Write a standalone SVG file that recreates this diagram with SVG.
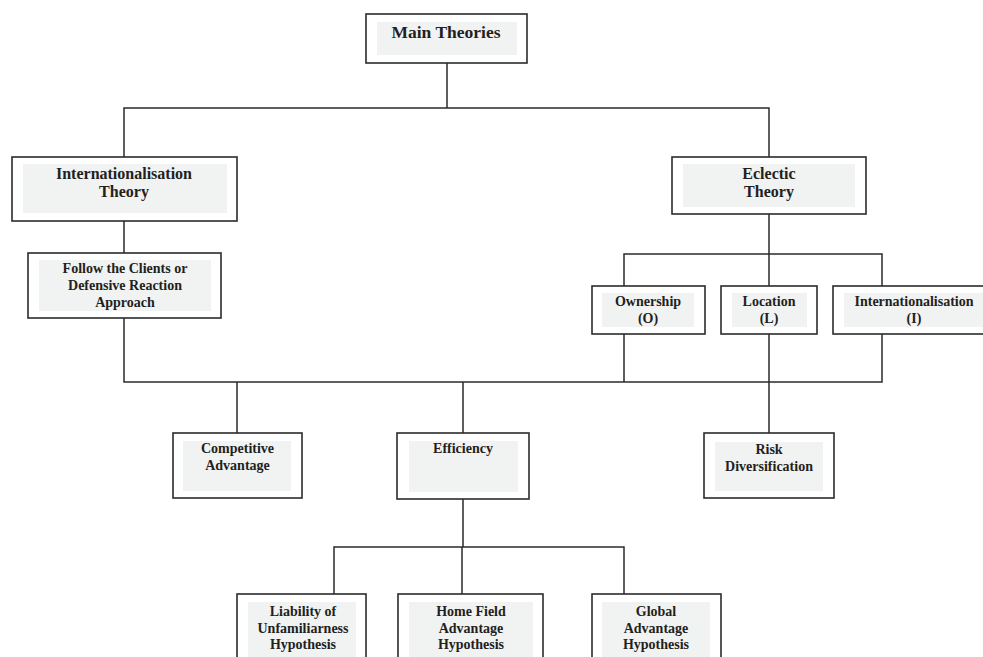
<svg xmlns="http://www.w3.org/2000/svg" width="983" height="657" viewBox="0 0 983 657">
<style>
.box{fill:#fff;stroke:#2b2b2b;stroke-width:1.6}
.in{fill:#f1f2f2;stroke:none}
.t{font-family:"Liberation Serif","Times New Roman",serif;font-weight:bold;fill:#231f20;text-anchor:middle}
.s14{font-size:14px}
.s16{font-size:16px}
.s17{font-size:17.5px}
.c{fill:none;stroke:#2b2b2b;stroke-width:1.5}
</style>
<rect width="983" height="657" fill="#fff"/>
<g id="connectors">
<path class="c" d="M447 63V108M124 157V108H769V157"/>
<path class="c" d="M124 221V253M124 318V382H882V334"/>
<path class="c" d="M769 214V254M624 286V254H882V286M769 254V286"/>
<path class="c" d="M624 334V382M769 334V433"/>
<path class="c" d="M237 382V433M463 382V433"/>
<path class="c" d="M463 499V547M334 594V547H624V594M462 547V594"/>
</g>
<g id="main">
<rect class="box" x="366" y="14" width="161" height="49"/>
<rect class="in" x="377" y="22" width="140" height="33"/>
<text class="t s17" x="446" y="38">Main Theories</text>
</g>
<g id="internationalisation-theory">
<rect class="box" x="12" y="157" width="225" height="64"/>
<rect class="in" x="23" y="164" width="204" height="49"/>
<text class="t s16" x="124" y="179">Internationalisation</text>
<text class="t s16" x="124" y="197">Theory</text>
</g>
<g id="follow-clients">
<rect class="box" x="28" y="253" width="193" height="65"/>
<rect class="in" x="39" y="260" width="172" height="51"/>
<text class="t s14" x="125" y="273">Follow the Clients or</text>
<text class="t s14" x="125" y="290">Defensive Reaction</text>
<text class="t s14" x="125" y="307">Approach</text>
</g>
<g id="eclectic-theory">
<rect class="box" x="672" y="157" width="194" height="57"/>
<rect class="in" x="683" y="164" width="172" height="43"/>
<text class="t s16" x="769" y="179">Eclectic</text>
<text class="t s16" x="769" y="197">Theory</text>
</g>
<g id="ownership">
<rect class="box" x="592" y="286" width="113" height="48"/>
<rect class="in" x="602" y="293" width="92" height="34"/>
<text class="t s14" x="648" y="306">Ownership</text>
<text class="t s14" x="648" y="323">(O)</text>
</g>
<g id="location">
<rect class="box" x="721" y="286" width="96" height="48"/>
<rect class="in" x="732" y="293" width="75" height="34"/>
<text class="t s14" x="769" y="306">Location</text>
<text class="t s14" x="769" y="323">(L)</text>
</g>
<g id="internationalisation-i">
<rect class="box" x="833" y="286" width="163" height="48"/>
<rect class="in" x="844" y="293" width="141" height="34"/>
<text class="t s14" x="914" y="306">Internationalisation</text>
<text class="t s14" x="914" y="323">(I)</text>
</g>
<g id="competitive-advantage">
<rect class="box" x="173" y="433" width="129" height="65"/>
<rect class="in" x="183" y="441" width="108" height="50"/>
<text class="t s14" x="237.5" y="453">Competitive</text>
<text class="t s14" x="237.5" y="470">Advantage</text>
</g>
<g id="efficiency">
<rect class="box" x="397" y="433" width="132" height="66"/>
<rect class="in" x="409" y="441" width="109" height="51"/>
<text class="t s14" x="463" y="453">Efficiency</text>
</g>
<g id="risk-diversification">
<rect class="box" x="704" y="433" width="130" height="65"/>
<rect class="in" x="715" y="442" width="108" height="49"/>
<text class="t s14" x="769" y="454">Risk</text>
<text class="t s14" x="769" y="470.5">Diversification</text>
</g>
<g id="liability">
<rect class="box" x="237" y="594" width="129" height="76"/>
<rect class="in" x="248" y="602" width="108" height="60"/>
<text class="t s14" x="303" y="616">Liability of</text>
<text class="t s14" x="303" y="633">Unfamiliarness</text>
<text class="t s14" x="303" y="649">Hypothesis</text>
</g>
<g id="home-field">
<rect class="box" x="398" y="594" width="145" height="76"/>
<rect class="in" x="409" y="602" width="124" height="60"/>
<text class="t s14" x="471" y="616">Home Field</text>
<text class="t s14" x="471" y="633">Advantage</text>
<text class="t s14" x="471" y="649">Hypothesis</text>
</g>
<g id="global">
<rect class="box" x="592" y="594" width="129" height="76"/>
<rect class="in" x="602" y="602" width="108" height="60"/>
<text class="t s14" x="656" y="616">Global</text>
<text class="t s14" x="656" y="633">Advantage</text>
<text class="t s14" x="656" y="649">Hypothesis</text>
</g>
</svg>
